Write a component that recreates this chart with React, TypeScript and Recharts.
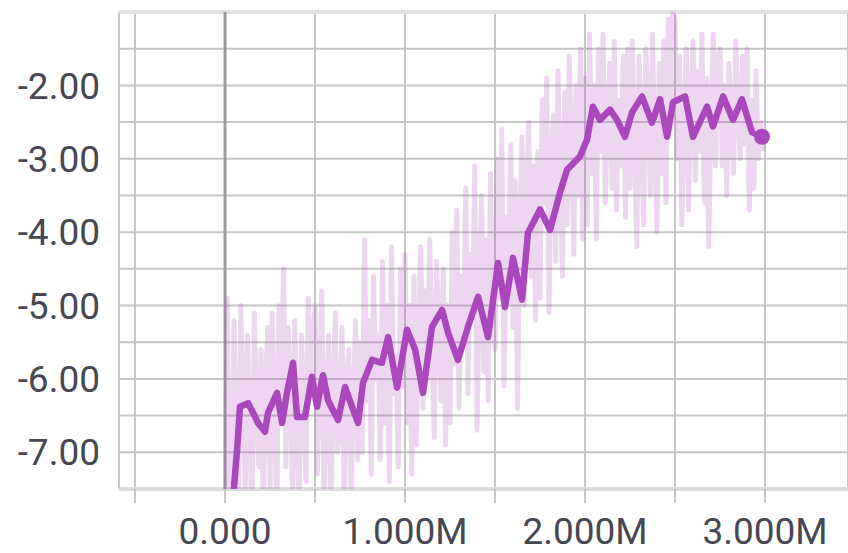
import { LineChart, Line, XAxis, YAxis, CartesianGrid, ReferenceLine } from 'recharts';

// raw scalar, logged every 12.5k steps (x axis in millions of steps)
const RAW_STEP_SIZE = 0.0125;
const RAW_VALUES = [
  -8.6, -4.9, -8.2, -7.4, -5.2, -6.9, -7.8, -5.0, -6.1, -7.6, -5.4, -6.8, -8.0, -5.1, -6.3, -7.2, -5.6, -7.9, -6.0, -5.3,
  -7.5, -5.1, -6.4, -7.9, -5.0, -6.6, -4.5, -7.2, -5.3, -5.9, -7.7, -5.2, -6.8, -7.8, -5.4, -6.3, -7.4, -4.9, -6.0, -5.5,
  -5.0, -7.3, -6.1, -4.8, -7.6, -6.5, -5.4, -7.9, -6.2, -5.1, -7.0, -6.6, -5.3, -7.8, -6.0, -5.6, -7.5, -6.4, -5.2, -7.1,
  -5.5, -7.0, -4.1, -6.3, -5.2, -7.3, -4.6, -6.0, -5.4, -7.1, -4.4, -6.6, -5.0, -7.4, -4.2, -6.2, -5.7, -7.2, -4.5, -6.1,
  -4.3, -6.6, -5.0, -7.3, -4.6, -6.9, -5.5, -4.2, -6.4, -4.8, -6.0, -4.1, -5.7, -6.8, -4.4, -5.2, -6.3, -4.5, -6.9, -5.0,
  -6.6, -4.0, -5.8, -3.7, -6.4, -4.6, -5.3, -3.4, -6.2, -4.3, -5.1, -3.1, -6.7, -4.8, -3.5, -5.9, -4.1, -6.3, -3.2, -4.9,
  -5.6, -3.0, -4.9, -2.6, -6.1, -3.8, -4.4, -2.8, -5.3, -3.3, -6.4, -4.0, -2.7, -5.0, -3.5, -2.5, -4.6, -3.1, -5.2, -2.9,
  -4.9, -2.2, -3.6, -1.9, -5.1, -3.0, -2.4, -4.4, -1.8, -3.3, -4.6, -2.1, -3.9, -1.6, -2.8, -4.3, -2.0, -3.5, -1.5, -4.1,
  -1.9, -3.9, -1.3, -3.2, -2.0, -4.1, -1.5, -2.9, -1.3, -3.6, -2.4, -1.7, -3.4, -1.4, -3.7, -2.2, -3.1, -1.6, -3.8, -1.5,
  -3.4, -1.4, -2.8, -4.2, -1.6, -2.5, -3.9, -1.5, -2.2, -3.5, -1.3, -2.9, -4.0, -1.7, -3.2, -1.4, -3.6, -1.1, -2.6, -1.0,
  -1.1, -3.0, -1.6, -3.9, -2.5, -1.5, -3.7, -2.2, -1.4, -3.3, -1.8, -2.9, -1.3, -3.6, -1.9, -4.2, -2.4, -1.3, -3.1, -1.6,
  -1.5, -3.1, -2.0, -3.5, -1.7, -2.6, -3.2, -1.4, -2.4, -3.0, -1.6, -2.8, -1.5, -3.7, -2.2, -3.4, -1.8, -3.0, -2.5, -2.9,
];

// smoothed curve
const SMOOTH_STEPS = [
  0.0, 0.044, 0.067, 0.083, 0.128, 0.156, 0.183, 0.222, 0.239, 0.289, 0.317, 0.344, 0.378, 0.4, 0.444, 0.483,
  0.511, 0.544, 0.572, 0.628, 0.667, 0.706, 0.739, 0.767, 0.817, 0.872, 0.906, 0.956, 1.011, 1.056, 1.1, 1.15,
  1.206, 1.239, 1.294, 1.35, 1.406, 1.461, 1.517, 1.556, 1.6, 1.65, 1.683, 1.75, 1.806, 1.861, 1.9, 1.972,
  2.011, 2.044, 2.083, 2.139, 2.178, 2.222, 2.261, 2.317, 2.372, 2.417, 2.456, 2.489, 2.556, 2.6, 2.678, 2.711,
  2.767, 2.822, 2.872, 2.928, 2.983,
];
const SMOOTH_VALUES = [
  -8.6, -7.65, -6.97, -6.38, -6.33, -6.46, -6.6, -6.72, -6.46, -6.19, -6.6, -6.19, -5.78, -6.52, -6.52, -5.97,
  -6.38, -5.95, -6.29, -6.56, -6.11, -6.38, -6.6, -6.05, -5.74, -5.78, -5.43, -6.12, -5.33, -5.6, -6.19, -5.29,
  -5.06, -5.37, -5.74, -5.29, -4.88, -5.43, -4.42, -5.02, -4.35, -4.92, -4.01, -3.69, -3.97, -3.46, -3.15, -2.97,
  -2.74, -2.29, -2.47, -2.33, -2.47, -2.7, -2.37, -2.15, -2.51, -2.19, -2.7, -2.23, -2.15, -2.7, -2.29, -2.56,
  -2.15, -2.47, -2.19, -2.64, -2.7,
];

const X_TICKS = [-0.5, 0, 0.5, 1, 1.5, 2, 2.5, 3];
const Y_TICKS = [-7.5, -7, -6.5, -6, -5.5, -5, -4.5, -4, -3.5, -3, -2.5, -2, -1.5, -1];

const rawData = RAW_VALUES.map((v, i) => ({ step: i * RAW_STEP_SIZE, value: v }));
const smoothData = SMOOTH_STEPS.map((s, i) => ({ step: s, value: SMOOTH_VALUES[i] }));

const PURPLE = '#ab47bc';
const GRID = '#c6c6c6';
const tickStyle = { fill: '#474752', fontSize: 37, fontFamily: 'Roboto' };

const fmtX = (v: number) => (v === 0 ? '0.000' : Number.isInteger(v) && v > 0 ? `${v.toFixed(3)}M` : '');
const fmtY = (v: number) => (Number.isInteger(v) && v <= -2 ? v.toFixed(2) : '');

export default function App() {
  const last = smoothData.length - 1;
  return (
    <div>
      <style>{'body { margin: 0; background: #fff; }'}</style>
      <LineChart width={848} height={553} margin={{ top: 12, right: 0, left: 0, bottom: 0 }}>
        <CartesianGrid stroke={GRID} strokeWidth={2} />
        <XAxis
          dataKey="step"
          type="number"
          domain={[-0.589, 3.461]}
          allowDataOverflow
          ticks={X_TICKS}
          tickFormatter={fmtX}
          interval={0}
          height={64}
          axisLine={false}
          tickSize={14}
          tickLine={{ stroke: GRID, strokeWidth: 2 }}
          tickMargin={15}
          tick={tickStyle}
        />
        <YAxis
          dataKey="value"
          type="number"
          domain={[-7.5, -1]}
          allowDataOverflow
          ticks={Y_TICKS}
          tickFormatter={fmtY}
          interval={0}
          width={119}
          axisLine={false}
          tickLine={false}
          tickSize={0}
          tickMargin={19}
          tick={tickStyle}
        />
        <ReferenceLine y={-1} stroke="#e2e2e2" strokeWidth={4} />
        <ReferenceLine y={-7.5} stroke="#dcdcdc" strokeWidth={4} />
        <ReferenceLine x={0} stroke="#9a9a9a" strokeWidth={3} />
        <Line
          data={rawData}
          dataKey="value"
          type="linear"
          stroke={PURPLE}
          strokeOpacity={0.22}
          strokeWidth={5}
          strokeLinejoin="round"
          dot={false}
          isAnimationActive={false}
        />
        <Line
          data={smoothData}
          dataKey="value"
          type="linear"
          stroke={PURPLE}
          strokeWidth={6.5}
          strokeLinejoin="round"
          dot={(p: any) =>
            p.index === last ? (
              <circle key="end" cx={p.cx} cy={p.cy} r={8} fill={PURPLE} />
            ) : (
              <g key={`d${p.index}`} />
            )
          }
          isAnimationActive={false}
        />
      </LineChart>
    </div>
  );
}
